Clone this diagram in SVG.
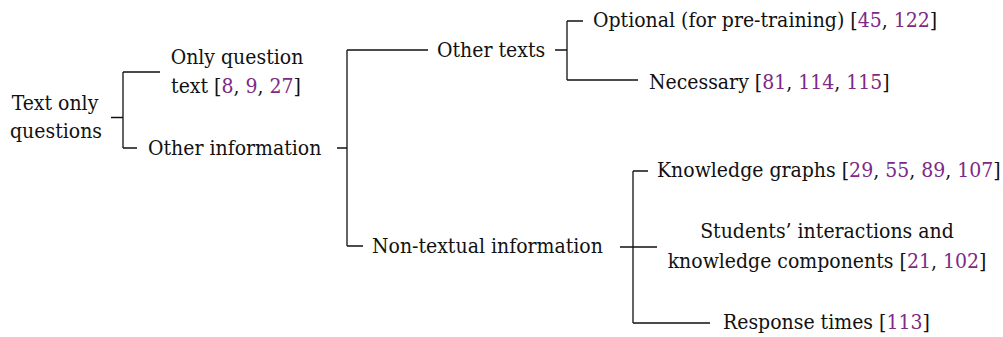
<svg xmlns="http://www.w3.org/2000/svg" width="1003" height="337" viewBox="0 0 1003 337">
<style>
text{font-family:"DejaVu Serif Condensed","DejaVu Serif",serif;font-stretch:condensed;font-size:21px;fill:#111}
.c{fill:#7d2a86}
.m{text-anchor:middle}
#connectors path{fill:none;stroke:#111;stroke-width:1.3}
</style>
<rect width="1003" height="337" fill="#fff"/>
<g id="connectors">
<path d="M111 117.5H123M123 72V148M123 72H160M123 148H137"/>
<path d="M337 148H347M347 50V246M347 50H428M347 246H363"/>
<path d="M555 50H567M567 21V80M567 21H583M567 80H638"/>
<path d="M620 247H657M633 171V323M633 171H648M633 323H710"/>
</g>
<g id="n-root"><text class="m" x="55" y="110">Text only</text><text class="m" x="56" y="138">questions</text></g>
<g id="n-onlyq"><text class="m" x="237" y="64">Only question</text><text class="m" x="236" y="93">text [<tspan class="c">8</tspan>, <tspan class="c">9</tspan>, <tspan class="c">27</tspan>]</text></g>
<g id="n-otherinfo"><text x="148" y="155">Other information</text></g>
<g id="n-othertexts"><text x="437" y="57">Other texts</text></g>
<g id="n-optional"><text x="593" y="27">Optional (for pre-training) [<tspan class="c">45</tspan>, <tspan class="c">122</tspan>]</text></g>
<g id="n-necessary"><text x="649" y="89">Necessary [<tspan class="c">81</tspan>, <tspan class="c">114</tspan>, <tspan class="c">115</tspan>]</text></g>
<g id="n-nontextual"><text x="372" y="253">Non-textual information</text></g>
<g id="n-kg"><text x="657" y="177">Knowledge graphs [<tspan class="c">29</tspan>, <tspan class="c">55</tspan>, <tspan class="c">89</tspan>, <tspan class="c">107</tspan>]</text></g>
<g id="n-students"><text class="m" x="827" y="238">Students’ interactions and</text><text class="m" x="827" y="268">knowledge components [<tspan class="c">21</tspan>, <tspan class="c">102</tspan>]</text></g>
<g id="n-response"><text x="723" y="329">Response times [<tspan class="c">113</tspan>]</text></g>
</svg>
